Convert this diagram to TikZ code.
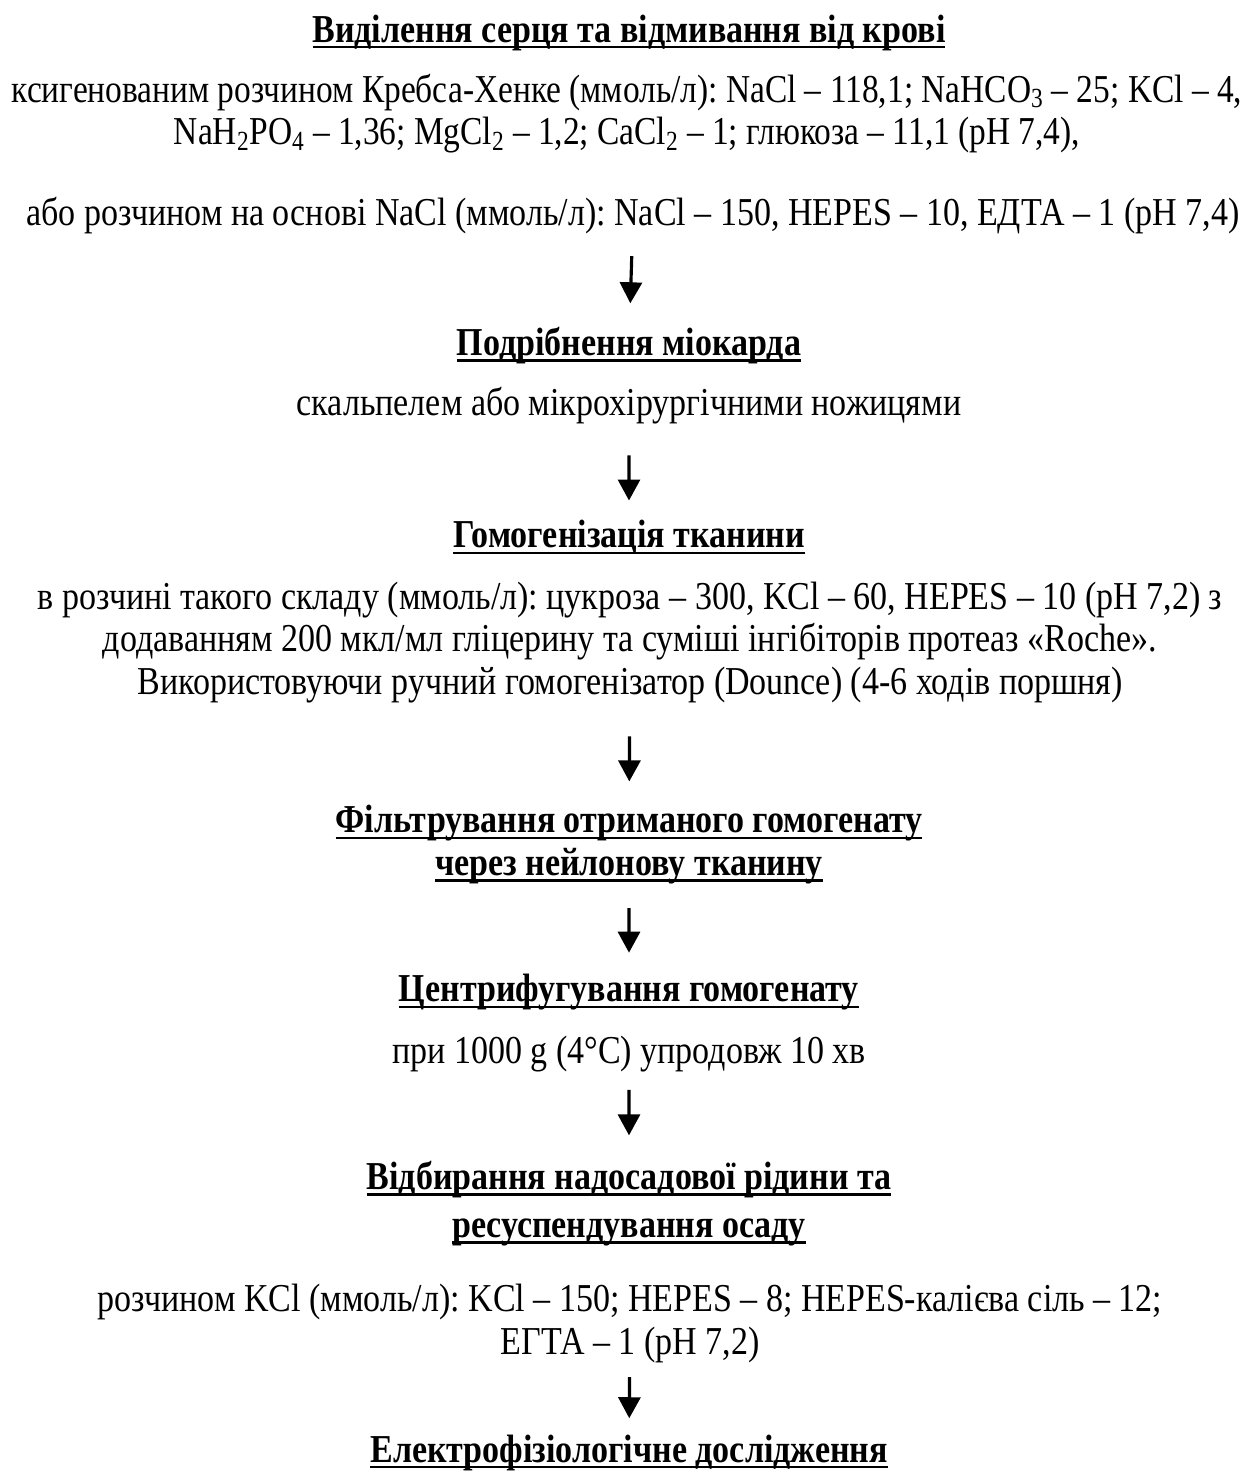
\documentclass[tikz,border=0pt]{standalone}
\usepackage{fontspec}
\setmainfont{Liberation Serif}
\usetikzlibrary{arrows.meta}
\frenchspacing
\setlength{\lineskiplimit}{-20pt}
\newcommand{\undl}[1]{\leavevmode\setbox0=\hbox{#1}\rlap{\rule[-3.6pt]{\wd0}{1.4pt}}\box0}
\tikzset{
  stage/.style={inner sep=0pt,align=center,xscale=0.86,
    font=\bfseries\fontsize{22.5}{24.2}\selectfont},
  note/.style={inner sep=0pt,align=center,xscale=0.86,
    font=\fontsize{22.5}{24.2}\selectfont},
  arr/.style={-{Triangle[length=0.42cm,width=0.44cm]},line width=1.8pt}
}
\begin{document}
\begin{tikzpicture}
            \useasboundingbox (0,0) rectangle (24.98,-29.44);
            \node[stage] (isol) at (12.58,-0.65) {\undl{Виділення серця та відмивання від крові}};
            \node[note,xscale=0.983] (krebs) at (12.54,-2.27) {ксигенованим розчином Кребса-Хенке (ммоль/л): NaCl – 118,1; NaHCO\textsubscript{3} – 25; KCl – 4,\\
              NaH\textsubscript{2}PO\textsubscript{4} – 1,36; MgCl\textsubscript{2} – 1,2; CaCl\textsubscript{2} – 1; глюкоза – 11,1 (pH 7,4),};
            \node[note] (nacl) at (12.66,-4.31) {або розчином на основі NaCl (ммоль/л): NaCl – 150, HEPES – 10, ЕДТА – 1 (pH 7,4)};
            \node[stage] (mince) at (12.58,-6.91) {\undl{Подрібнення міокарда}};
            \node[note] (scalp) at (12.58,-8.11) {скальпелем або мікрохірургічними ножицями};
            \node[stage] (homog) at (12.58,-10.75) {\undl{Гомогенізація тканини}};
            \node[note] (sucr) at (12.6,-12.85) {в розчині такого складу (ммоль/л): цукроза – 300, KCl – 60, HEPES – 10 (pH 7,2) з\\
              додаванням 200 мкл/мл гліцерину та суміші інгібіторів протеаз «Roche».\\
              Використовуючи ручний гомогенізатор (Dounce) (4-6 ходів поршня)};
            \node[stage] (filt) at (12.58,-16.89) {\undl{Фільтрування отриманого гомогенату}\\
              \undl{через нейлонову тканину}};
            \node[stage] (centr) at (12.58,-19.85) {\undl{Центрифугування гомогенату}};
            \node[note] (spin) at (12.58,-21.09) {при 1000 g (4°C) упродовж 10 хв};
            \node[stage] (resus) at (12.58,-24.07) {\undl{Відбирання надосадової рідини та}\\[3pt]
              \undl{ресуспендування осаду}};
            \node[note] (kcl) at (12.6,-26.47) {розчином KCl (ммоль/л): KCl – 150; HEPES – 8; HEPES-калієва сіль – 12;\\
              ЕГТА – 1 (pH 7,2)};
            \node[stage] (ephys) at (12.58,-29.05) {\undl{Електрофізіологічне дослідження}};
            \draw[arr,shorten <=0.44cm,shorten >=0.47cm] (nacl) -- (mince);
            \draw[arr,shorten <=0.62cm,shorten >=0.39cm] (scalp) -- (homog);
            \draw[arr,shorten <=0.66cm,shorten >=0.47cm] (sucr) -- (filt);
            \draw[arr,shorten <=0.48cm,shorten >=0.43cm] (filt) -- (centr);
            \draw[arr,shorten <=0.34cm,shorten >=0.51cm] (spin) -- (resus);
            \draw[arr,shorten <=0.28cm,shorten >=0.32cm] (kcl) -- (ephys);
        \end{tikzpicture}
\end{document}
